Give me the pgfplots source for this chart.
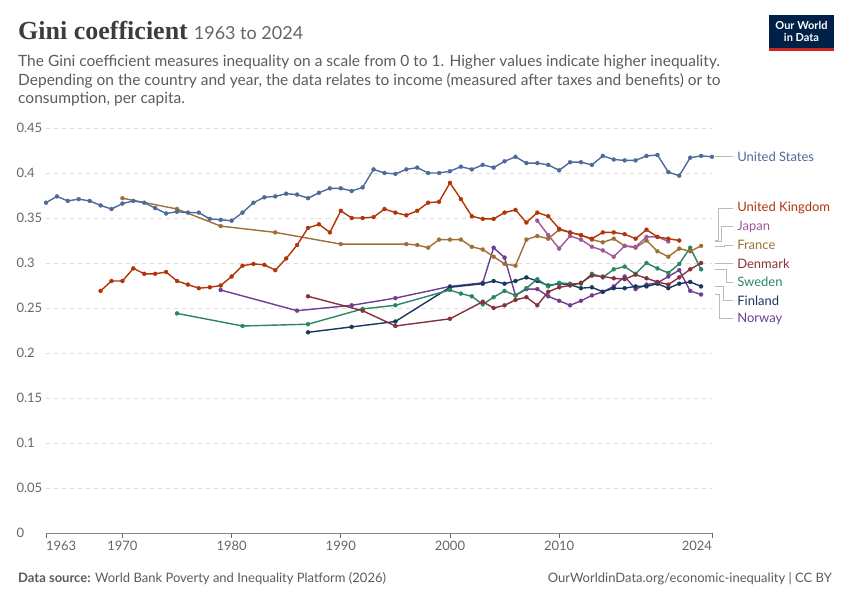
\documentclass[border=0pt]{standalone}
\usepackage{fontspec}
\usepackage{pgfplots}
\pgfplotsset{compat=1.18}
\setmainfont{Lato}
\newfontfamily\titlefont{Liberation Serif}

\definecolor{cUS}{HTML}{4C6A9C}
\definecolor{cUK}{HTML}{B13507}
\definecolor{cJP}{HTML}{A2559C}
\definecolor{cFR}{HTML}{9E6F36}
\definecolor{cDK}{HTML}{883039}
\definecolor{cSE}{HTML}{2C8465}
\definecolor{cFI}{HTML}{18375F}
\definecolor{cNO}{HTML}{6D3E91}
\definecolor{gridc}{HTML}{DDDDDD}
\definecolor{tickc}{HTML}{666666}
\definecolor{textc}{HTML}{5B5B5B}
\definecolor{titlec}{HTML}{3D3D3D}
\definecolor{connc}{HTML}{BBBBBB}
\definecolor{owidnavy}{HTML}{002147}
\definecolor{owidred}{HTML}{CE261E}

\pgfplotsset{
  series/.style={line width=1.4pt, mark=*, mark size=2pt, mark options={solid, line width=0.3pt}},
}

\begin{document}
\begin{tikzpicture}[x=1pt,y=1pt]
\path[use as bounding box] (0,0) rectangle (850,600);

% header
\node[anchor=base west, inner sep=0] at (18,560)
  {\titlefont\bfseries\fontsize{26}{30}\selectfont\color{titlec}Gini coefficient\hspace{6pt}%
   \normalfont\fontsize{18}{20}\selectfont\color{tickc}1963 to 2024};
\node[anchor=base west, inner sep=0, text=textc, font=\fontsize{15.5}{18}\selectfont] at (18,533)
  {The Gini coefficient measures inequality on a scale from 0 to 1. Higher values indicate higher inequality.};
\node[anchor=base west, inner sep=0, text=textc, font=\fontsize{15.5}{18}\selectfont] at (18,514.5)
  {Depending on the country and year, the data relates to income (measured after taxes and benefits) or to};
\node[anchor=base west, inner sep=0, text=textc, font=\fontsize{15.5}{18}\selectfont] at (18,496)
  {consumption, per capita.};

% logo
\fill[owidnavy] (769,552) rectangle (834,585);
\fill[owidred] (769,549) rectangle (834,552);
\node[text=white, font=\bfseries\fontsize{11}{12.5}\selectfont, align=center, inner sep=0] at (801.5,568.5) {Our World\\in Data};

% footer
\node[anchor=base west, inner sep=0, text=textc, font=\fontsize{13}{14}\selectfont] at (18,18)
  {\textbf{Data source:} World Bank Poverty and Inequality Platform (2026)};
\node[anchor=base east, inner sep=0, text=textc, font=\fontsize{13}{14}\selectfont] at (832,18)
  {OurWorldinData.org/economic-inequality | CC BY};

\begin{axis}[
  at={(46pt,67pt)}, anchor=south west,
  scale only axis, width=666pt, height=405pt,
  xmin=1963, xmax=2024, ymin=0, ymax=0.45,
  clip=false,
  axis line style={draw=none},
  xtick={1963,1970,1980,1990,2000,2010,2024},
  xticklabels={\makebox[0pt][l]{1963},1970,1980,1990,2000,2010,\makebox[0pt][r]{2024}},
  ytick={0,0.05,0.1,0.15,0.2,0.25,0.3,0.35,0.4,0.45},
  yticklabels={0,0.05,0.1,0.15,0.2,0.25,0.3,0.35,0.4,0.45},
  /pgf/number format/assume math mode=true,
  ymajorgrids,
  major grid style={dash pattern=on 4pt off 4pt, color=gridc, line width=0.8pt},
  xtick pos=bottom,
  ytick style={draw=none},
  xtick style={draw=tickc, line width=0.8pt},
  tick align=outside, major tick length=5pt,
  ticklabel style={font=\fontsize{13}{13}\selectfont, text=tickc},
  yticklabel style={anchor=west, xshift=-28pt},
]
\draw[tickc!80, line width=0.8pt] (axis cs:1963,0) -- (axis cs:2024,0);

\addplot[series, color=cNO] coordinates {
(1979,0.270) (1986,0.247) (1991,0.253) (1995,0.261) (2000,0.274) (2003,0.278)
(2004,0.317) (2005,0.306) (2006,0.264) (2007,0.271) (2008,0.271) (2009,0.263)
(2010,0.258) (2011,0.253) (2012,0.258) (2013,0.264) (2014,0.268) (2015,0.274)
(2016,0.285) (2017,0.271) (2018,0.276) (2019,0.278) (2020,0.285) (2021,0.292)
(2022,0.269) (2023,0.265)};

\addplot[series, color=cFI] coordinates {
(1987,0.223) (1991,0.229) (1995,0.235) (2000,0.273) (2003,0.277) (2004,0.280)
(2005,0.277) (2006,0.280) (2007,0.284) (2008,0.280) (2009,0.275) (2010,0.277)
(2011,0.276) (2012,0.272) (2013,0.273) (2014,0.268) (2015,0.272) (2016,0.272)
(2017,0.274) (2018,0.274) (2019,0.277) (2020,0.272) (2021,0.277) (2022,0.279)
(2023,0.274)};

\addplot[series, color=cSE] coordinates {
(1975,0.244) (1981,0.230) (1987,0.232) (1992,0.249) (1995,0.253) (2000,0.270)
(2001,0.266) (2002,0.263) (2003,0.254) (2004,0.262) (2005,0.269) (2006,0.264)
(2007,0.272) (2008,0.282) (2009,0.274) (2010,0.278) (2011,0.277) (2012,0.277)
(2013,0.288) (2014,0.284) (2015,0.293) (2016,0.296) (2017,0.288) (2018,0.300)
(2019,0.294) (2020,0.289) (2021,0.299) (2022,0.317) (2023,0.293)};

\addplot[series, color=cDK] coordinates {
(1987,0.263) (1992,0.247) (1995,0.230) (2000,0.238) (2003,0.257) (2004,0.250)
(2005,0.253) (2006,0.259) (2007,0.262) (2008,0.253) (2009,0.268) (2010,0.273)
(2011,0.275) (2012,0.278) (2013,0.286) (2014,0.285) (2015,0.283) (2016,0.282)
(2017,0.287) (2018,0.283) (2019,0.279) (2020,0.276) (2021,0.284) (2022,0.293)
(2023,0.300)};

\addplot[series, color=cFR] coordinates {
(1970,0.372) (1975,0.360) (1979,0.341) (1984,0.334) (1990,0.321) (1996,0.321)
(1997,0.320) (1998,0.317) (1999,0.326) (2000,0.326) (2001,0.326) (2002,0.318)
(2003,0.315) (2004,0.307) (2005,0.299) (2006,0.297) (2007,0.326) (2008,0.330)
(2009,0.327) (2010,0.337) (2011,0.334) (2012,0.331) (2013,0.326) (2014,0.323)
(2015,0.327) (2016,0.319) (2017,0.317) (2018,0.325) (2019,0.313) (2020,0.307)
(2021,0.316) (2022,0.313) (2023,0.319)};

\addplot[series, color=cJP] coordinates {
(2008,0.347) (2009,0.331) (2010,0.316) (2011,0.330) (2012,0.326) (2013,0.318)
(2014,0.314) (2015,0.307) (2016,0.319) (2017,0.318) (2018,0.329) (2019,0.329)
(2020,0.324)};

\addplot[series, color=cUK] coordinates {
(1968,0.269) (1969,0.280) (1970,0.280) (1971,0.294) (1972,0.288) (1973,0.288)
(1974,0.290) (1975,0.280) (1976,0.276) (1977,0.272) (1978,0.273) (1979,0.275)
(1980,0.285) (1981,0.297) (1982,0.299) (1983,0.298) (1984,0.292) (1985,0.305)
(1986,0.320) (1987,0.339) (1988,0.343) (1989,0.334) (1990,0.358) (1991,0.350)
(1992,0.350) (1993,0.351) (1994,0.360) (1995,0.356) (1996,0.353) (1997,0.358)
(1998,0.367) (1999,0.368) (2000,0.389) (2001,0.371) (2002,0.352) (2003,0.349)
(2004,0.349) (2005,0.356) (2006,0.359) (2007,0.345) (2008,0.356) (2009,0.352)
(2010,0.338) (2011,0.334) (2012,0.331) (2013,0.327) (2014,0.334) (2015,0.334)
(2016,0.332) (2017,0.327) (2018,0.337) (2019,0.329) (2020,0.327) (2021,0.325)};

\addplot[series, color=cUS] coordinates {
(1963,0.367) (1964,0.374) (1965,0.369) (1966,0.371) (1967,0.369) (1968,0.364)
(1969,0.360) (1970,0.366) (1971,0.369) (1972,0.367) (1973,0.361) (1974,0.355)
(1975,0.357) (1976,0.356) (1977,0.356) (1978,0.349) (1979,0.348) (1980,0.347)
(1981,0.356) (1982,0.367) (1983,0.373) (1984,0.374) (1985,0.377) (1986,0.376)
(1987,0.372) (1988,0.378) (1989,0.383) (1990,0.383) (1991,0.380) (1992,0.384)
(1993,0.404) (1994,0.400) (1995,0.399) (1996,0.404) (1997,0.406) (1998,0.400)
(1999,0.400) (2000,0.402) (2001,0.407) (2002,0.404) (2003,0.409) (2004,0.406)
(2005,0.413) (2006,0.418) (2007,0.411) (2008,0.411) (2009,0.409) (2010,0.403)
(2011,0.412) (2012,0.412) (2013,0.409) (2014,0.419) (2015,0.415) (2016,0.414)
(2017,0.414) (2018,0.419) (2019,0.420) (2020,0.401) (2021,0.397) (2022,0.417)
(2023,0.419) (2024,0.418)};

% connectors
\begin{scope}[connc, line width=0.8pt]
\draw (axis cs:2024.27,0.418) -- (axis cs:2025.95,0.418);
\draw (axis cs:2024.27,0.325) -| (axis cs:2024.57,0.3608) -- (axis cs:2025.95,0.3608);
\draw (axis cs:2024.27,0.324) -| (axis cs:2024.88,0.3403) -- (axis cs:2025.95,0.3403);
\draw (axis cs:2024.27,0.319) -| (axis cs:2025.15,0.3200) -- (axis cs:2025.95,0.3200);
\draw (axis cs:2024.27,0.300) -- (axis cs:2025.95,0.300);
\draw (axis cs:2024.27,0.293) -| (axis cs:2025.34,0.2786) -- (axis cs:2025.95,0.2786);
\draw (axis cs:2024.27,0.274) -| (axis cs:2025.03,0.2583) -- (axis cs:2025.95,0.2583);
\draw (axis cs:2024.27,0.265) -| (axis cs:2024.72,0.2381) -- (axis cs:2025.95,0.2381);
\end{scope}

% series labels
\begin{scope}[every node/.style={anchor=west, inner sep=0, font=\fontsize{13}{13}\selectfont}]
\node[text=cUS] at (axis cs:2026.3,0.418) {United States};
\node[text=cUK] at (axis cs:2026.3,0.3608) {United Kingdom};
\node[text=cJP] at (axis cs:2026.3,0.3403) {Japan};
\node[text=cFR] at (axis cs:2026.3,0.3200) {France};
\node[text=cDK] at (axis cs:2026.3,0.2994) {Denmark};
\node[text=cSE] at (axis cs:2026.3,0.2786) {Sweden};
\node[text=cFI] at (axis cs:2026.3,0.2583) {Finland};
\node[text=cNO] at (axis cs:2026.3,0.2381) {Norway};
\end{scope}
\end{axis}
\end{tikzpicture}
\end{document}
